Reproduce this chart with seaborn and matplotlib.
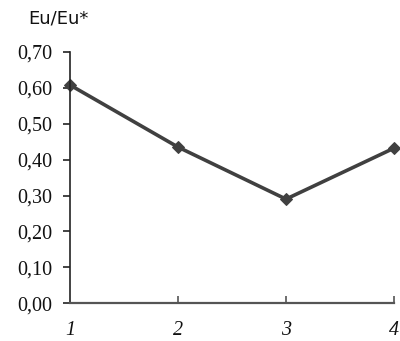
import matplotlib
matplotlib.use("Agg")
import matplotlib.pyplot as plt
import seaborn as sns
import pandas as pd

# Eu anomaly by sample
samples = [1, 2, 3, 4]
eu_ratio = [0.608, 0.435, 0.290, 0.432]
y_ticks = [0.0, 0.1, 0.2, 0.3, 0.4, 0.5, 0.6, 0.7]
y_tick_labels = ["0,00", "0,10", "0,20", "0,30", "0,40", "0,50", "0,60", "0,70"]
x_tick_labels = ["1", "2", "3", "4"]

df = pd.DataFrame({"sample": samples, "eu": eu_ratio})

sns.set_style("white")
fig = plt.figure(figsize=(4.0, 3.41), dpi=100)
ax = fig.add_axes([0.175, 0.111, 0.81, 0.7365])

line_color = "#404040"
sns.lineplot(data=df, x="sample", y="eu", ax=ax, color=line_color, linewidth=2.6,
             marker="D", markersize=6.5, markeredgecolor=line_color,
             markerfacecolor=line_color, clip_on=False)

ax.set_xlim(1, 4)
ax.set_ylim(0, 0.7)
ax.set_yticks(y_ticks)
ax.set_yticklabels(y_tick_labels, family="Liberation Serif", fontsize=14.5, color="#111111")
ax.set_xticks(samples)
ax.set_xticklabels(x_tick_labels, family="Liberation Serif", style="italic",
                   fontsize=14.5, color="#111111")
ax.set_xlabel("")
ax.set_ylabel("")

for side in ["top", "right"]:
    ax.spines[side].set_visible(False)
ax.spines["left"].set_color("#222222")
ax.spines["left"].set_linewidth(1.2)
ax.spines["bottom"].set_color("#555555")
ax.spines["bottom"].set_linewidth(1.6)

ax.tick_params(axis="y", direction="out", length=5, width=1.2, color="#222222",
               pad=8, left=True)
ax.tick_params(axis="x", direction="in", length=5, width=1.2, color="#555555",
               pad=13, bottom=True)
# the first x tick sits on the y axis
ax.xaxis.get_major_ticks()[0].tick1line.set_visible(False)

fig.text(0.07, 0.945, "Eu/Eu*", family="DejaVu Sans", fontsize=13,
         color="#111111", va="center", ha="left")

fig.savefig("out.png", dpi=100)
